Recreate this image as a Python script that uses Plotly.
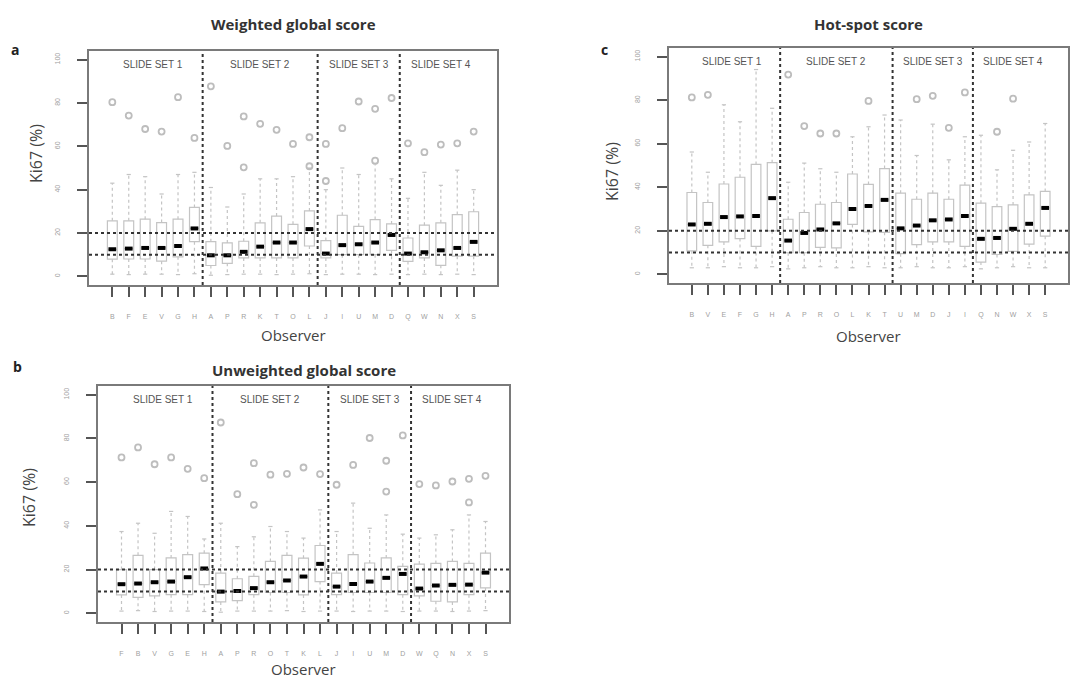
import plotly.graph_objects as go

W, H = 1070, 682

# ---------------- data ----------------
group_sizes = [6, 7, 5, 5]
group_labels = ["SLIDE SET 1", "SLIDE SET 2", "SLIDE SET 3", "SLIDE SET 4"]
y_ticks = [0, 20, 40, 60, 80, 100]
ref_lines = [10, 20]

# Panel a: Weighted global score
obs_a = ["B", "F", "E", "V", "G", "H", "A", "P", "R", "K", "T", "O", "L", "J", "I", "U", "M", "D", "Q", "W", "N", "X", "S"]
med_a = [12.5, 12.8, 13.1, 13.1, 14.0, 22.1, 9.7, 9.7, 11.3, 13.7, 15.6, 15.6, 21.8, 10.5, 14.4, 14.8, 15.6, 19.1, 10.5, 11.1, 12.0, 13.1, 15.9]
q1_a = [7.9, 8.0, 8.0, 7.0, 9.0, 16.0, 5.0, 6.0, 8.5, 8.5, 8.5, 8.5, 14.0, 8.5, 10.0, 10.0, 10.0, 12.0, 6.9, 8.5, 5.1, 9.3, 9.3]
q3_a = [25.6, 25.6, 26.4, 24.8, 26.4, 31.8, 16.0, 15.4, 16.2, 24.7, 27.8, 24.0, 30.2, 16.5, 28.2, 23.1, 26.2, 24.2, 17.7, 23.6, 24.7, 28.5, 29.8]
lo_a = [1.0, 0.8, 1.0, 1.0, 0.8, 1.2, 0.5, 0.8, 1.0, 1.0, 0.8, 1.0, 1.2, 0.8, 1.0, 1.0, 0.8, 1.0, 0.8, 1.0, 0.8, 1.0, 0.8]
hi_a = [43, 47, 46, 38, 47, 48, 41, 32, 38, 45, 45, 46, 50, 40, 50, 47, 52, 45, 36, 48, 42, 49, 40]
out_a = [[80.4], [74.2], [68.0], [66.8], [82.7], [63.9], [87.7], [60.2], [73.8, 50.3], [70.4], [67.6], [61.1],
         [64.2, 50.8], [61.1, 44.0], [68.4], [80.7], [77.3, 53.4], [82.3], [61.4], [57.3], [60.8], [61.4], [66.8]]

# Panel b: Unweighted global score
obs_b = ["F", "B", "V", "G", "E", "H", "A", "P", "R", "O", "T", "K", "L", "J", "I", "U", "M", "D", "W", "Q", "N", "X", "S"]
med_b = [13.3, 13.6, 14.2, 14.5, 16.5, 20.5, 9.9, 10.2, 11.5, 14.2, 15.0, 16.8, 22.6, 12.2, 13.4, 14.5, 16.2, 18.0, 11.3, 12.7, 13.0, 13.1, 18.6]
q1_b = [8.4, 7.3, 8.0, 8.5, 8.5, 13.1, 5.2, 5.8, 8.5, 9.5, 9.5, 8.4, 14.5, 8.5, 9.5, 9.5, 9.5, 8.5, 8.0, 5.5, 5.2, 8.5, 11.6]
q3_b = [20.0, 26.5, 20.0, 25.3, 26.8, 27.5, 18.4, 15.8, 16.9, 23.7, 26.5, 25.2, 31.0, 18.4, 26.8, 23.0, 25.3, 21.5, 22.5, 22.8, 23.7, 22.8, 27.5]
lo_b = [1.0, 1.2, 0.8, 1.0, 1.0, 0.8, 0.5, 1.0, 1.0, 1.0, 1.2, 0.8, 1.0, 1.0, 0.8, 1.0, 1.0, 0.8, 1.0, 1.0, 0.8, 1.0, 1.2]
hi_b = [37.4, 41.2, 36.6, 46.6, 44.3, 34.0, 41.2, 30.5, 35.0, 39.7, 37.4, 34.4, 47.3, 37.4, 50.4, 38.9, 45.0, 36.2, 34.4, 35.9, 38.2, 45.0, 42.0]
out_b = [[71.3], [75.9], [68.2], [71.3], [66.1], [61.8], [87.3], [54.5], [68.7, 49.6], [63.4], [63.8], [66.7],
         [63.7], [58.8], [67.9], [80.2], [69.8, 55.7], [81.4], [59.1], [58.5], [60.3], [61.5, 50.7], [62.9]]

# Panel c: Hot-spot score
obs_c = ["B", "V", "E", "F", "G", "H", "A", "P", "R", "O", "L", "K", "T", "U", "M", "D", "J", "I", "Q", "N", "W", "X", "S"]
med_c = [22.9, 23.2, 26.3, 26.6, 26.8, 35.0, 15.5, 19.0, 20.6, 23.4, 30.0, 31.4, 34.2, 21.1, 22.4, 24.8, 25.2, 26.8, 16.3, 16.7, 20.9, 23.2, 30.5]
q1_c = [10.8, 13.3, 14.9, 16.4, 12.8, 20.0, 9.9, 9.9, 12.4, 12.1, 22.9, 19.5, 19.3, 9.5, 13.6, 14.9, 14.9, 12.8, 5.6, 9.1, 10.5, 13.9, 17.5]
q3_c = [37.6, 33.0, 41.5, 44.6, 50.5, 51.3, 25.3, 28.4, 32.2, 33.0, 46.1, 41.3, 48.6, 37.3, 34.5, 37.3, 34.5, 41.0, 32.7, 31.1, 31.9, 36.5, 38.1]
lo_c = [3.0, 3.0, 3.5, 3.0, 3.0, 3.5, 2.5, 3.0, 3.5, 3.0, 3.0, 3.5, 3.0, 3.0, 3.5, 3.0, 3.0, 3.5, 2.5, 3.0, 3.5, 3.0, 3.0]
hi_c = [56.2, 46.9, 77.9, 70.1, 94.1, 76.3, 42.3, 51.1, 48.5, 46.9, 63.2, 67.8, 73.2, 70.9, 54.6, 69.0, 52.6, 63.2, 63.9, 48.0, 57.0, 60.8, 69.3]
out_c = [[81.3], [82.5], [], [], [], [], [91.8], [68.1], [64.7], [64.7], [], [79.7], [], [],
         [80.5], [82.0], [67.3], [83.6], [], [65.5], [80.7], [], []]

# ---------------- styling ----------------
BOX_COL = "#c4c4c4"
OUT_COL = "#bdbdbd"
FRAME_COL = "#7a7a7a"
TICK_LBL_COL = "#a0a0a0"
FONT = "Open Sans"

fig = go.Figure()
annotations = []
shapes = []


def px_x(v):
    return v / W


def px_y(v):
    return 1 - v / H


def add_panel(k, obs, med, q1, q3, lo, hi, out, box_px, title, letter, title_y, letter_pos,
              ylab_pos, obs_bottom):
    left, top, right, bottom = box_px
    xa = "x" if k == 1 else "x%d" % k
    ya = "y" if k == 1 else "y%d" % k
    pos = list(range(1, len(obs) + 1))

    fig.add_trace(go.Box(
        x=pos, q1=q1, median=med, q3=q3, lowerfence=q1, upperfence=q3,
        width=0.6, whiskerwidth=0, line=dict(color=BOX_COL, width=1.2),
        fillcolor="white", boxpoints=False, showlegend=False, hoverinfo="skip",
        xaxis=xa, yaxis=ya))

    wx, wy = [], []
    for p, a, b, c, d in zip(pos, q3, hi, q1, lo):
        wx += [p, p, None, p, p, None]
        wy += [a, b, None, c, d, None]
    fig.add_trace(go.Scatter(x=wx, y=wy, mode="lines",
                             line=dict(color=BOX_COL, width=1.2, dash="dot"),
                             showlegend=False, hoverinfo="skip", xaxis=xa, yaxis=ya))
    fig.add_trace(go.Scatter(x=pos + pos, y=hi + lo, mode="markers",
                             marker=dict(symbol="line-ew", size=3, color=BOX_COL,
                                         line=dict(color=BOX_COL, width=1.2)),
                             showlegend=False, hoverinfo="skip", xaxis=xa, yaxis=ya))

    ox, oy = [], []
    for p, vals in zip(pos, out):
        for v in vals:
            ox.append(p)
            oy.append(v)
    fig.add_trace(go.Scatter(x=ox, y=oy, mode="markers",
                             marker=dict(symbol="circle-open", size=6, color=OUT_COL,
                                         line=dict(color=OUT_COL, width=1.8)),
                             showlegend=False, hoverinfo="skip", xaxis=xa, yaxis=ya))

    fig.add_trace(go.Scatter(x=pos, y=med, mode="markers",
                             marker=dict(symbol="line-ew", size=5.5, color="black",
                                         line=dict(color="black", width=4)),
                             showlegend=False, hoverinfo="skip", xaxis=xa, yaxis=ya))

    n = len(obs)
    xr = [0.5 - 0.04 * n, n + 0.5 + 0.04 * n]
    axis_common = dict(showline=True, mirror=True, linecolor=FRAME_COL, linewidth=2,
                       showgrid=False, zeroline=False, ticks="outside",
                       tickcolor="#555555", tickwidth=1.5, ticklen=10)
    fig.update_layout(**{
        ("xaxis" if k == 1 else "xaxis%d" % k): dict(
            domain=[px_x(left), px_x(right)], anchor=ya, range=xr,
            tickmode="array", tickvals=pos, ticktext=obs,
            tickfont=dict(family="Liberation Sans", size=7, color=TICK_LBL_COL),
            ticklabelstandoff=14, **axis_common),
        ("yaxis" if k == 1 else "yaxis%d" % k): dict(
            domain=[px_y(bottom), px_y(top)], anchor=xa, range=[-4, 104],
            tickmode="array", tickvals=y_ticks, tickangle=-90,
            tickfont=dict(family="Liberation Sans", size=7, color=TICK_LBL_COL),
            ticklabelstandoff=14, **axis_common),
    })

    # group separators and labels
    cum = 0
    for gi, gs in enumerate(group_sizes):
        center = cum + (gs + 1) / 2
        annotations.append(dict(x=center, y=98, xref=xa, yref=ya, text=group_labels[gi],
                                showarrow=False, xanchor="center", yanchor="middle",
                                font=dict(family="Liberation Sans", size=10, color="#555555")))
        cum += gs
        if gi < len(group_sizes) - 1:
            shapes.append(dict(type="line", xref=xa, yref=ya + " domain", x0=cum + 0.5,
                               x1=cum + 0.5, y0=0, y1=1,
                               line=dict(color="#333333", width=2, dash="dot")))
    for r in ref_lines:
        shapes.append(dict(type="line", xref=xa + " domain", yref=ya, x0=0, x1=1, y0=r, y1=r,
                           line=dict(color="#333333", width=2, dash="dot")))

    cx = (left + right) / 2
    common = dict(xref="paper", yref="paper", showarrow=False, xanchor="center",
                  yanchor="middle")
    annotations.append(dict(x=px_x(cx), y=px_y(title_y), text="<b>%s</b>" % title,
                            font=dict(family=FONT, size=15, color="#333333"), **common))
    annotations.append(dict(x=px_x(letter_pos[0]), y=px_y(letter_pos[1]),
                            text="<b>%s</b>" % letter,
                            font=dict(family=FONT, size=14, color="#222222"), **common))
    annotations.append(dict(x=px_x(ylab_pos[0]), y=px_y(ylab_pos[1]), text="Ki67 (%)",
                            textangle=-90,
                            font=dict(family=FONT, size=16, color="#444444"), **common))
    annotations.append(dict(x=px_x(cx), y=px_y(obs_bottom), text="Observer",
                            xref="paper", yref="paper", showarrow=False,
                            xanchor="center", yanchor="bottom",
                            font=dict(family=FONT, size=15, color="#444444")))


add_panel(1, obs_a, med_a, q1_a, q3_a, lo_a, hi_a, out_a, (89, 51, 497, 285),
          "Weighted global score", "a", 24, (15, 49), (36, 154), 347)
add_panel(2, obs_b, med_b, q1_b, q3_b, lo_b, hi_b, out_b, (98, 386, 509, 622),
          "Unweighted global score", "b", 370, (17, 366), (29, 498), 681)
add_panel(3, obs_c, med_c, q1_c, q3_c, lo_c, hi_c, out_c, (669, 48, 1068, 283),
          "Hot-spot score", "c", 24, (604, 49), (612, 172), 348)

fig.update_layout(width=W, height=H, margin=dict(l=0, r=0, t=0, b=0),
                  paper_bgcolor="white", plot_bgcolor="white",
                  annotations=annotations, shapes=shapes, showlegend=False)

fig.write_html("out.html")
